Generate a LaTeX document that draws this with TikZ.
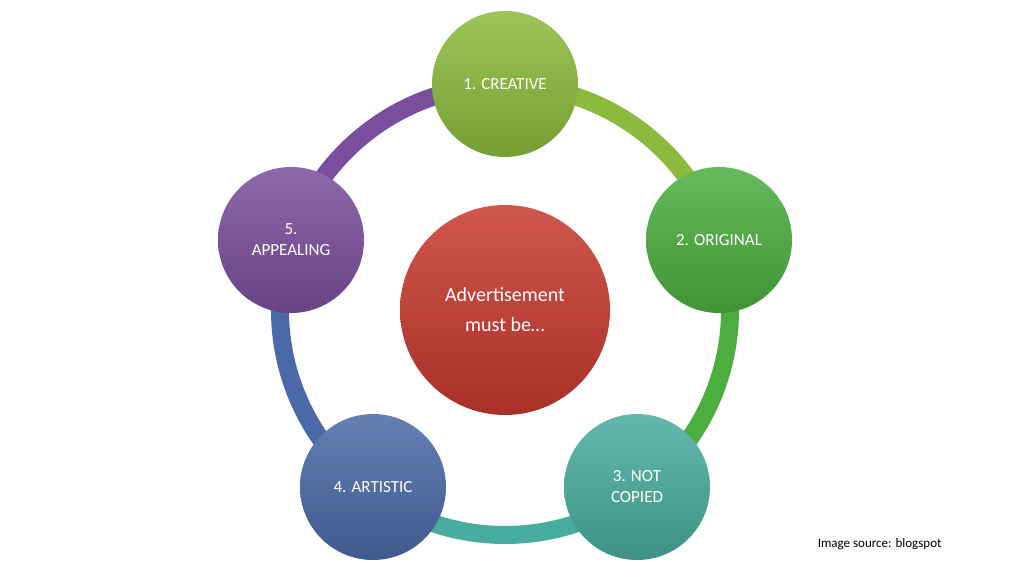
\documentclass[tikz,border=0pt]{standalone}
\usepackage{fontspec}
\setmainfont{Carlito}
\usetikzlibrary{positioning}
\definecolor{cCreative}{HTML}{8CBA3C}
\definecolor{cOriginal}{HTML}{4BAE3F}
\definecolor{cCopied}{HTML}{48AC9E}
\definecolor{cArtistic}{HTML}{4A69A6}
\definecolor{cAppealing}{HTML}{7A4E9C}
\definecolor{cCenter}{HTML}{C7382E}
\begin{document}
\begin{tikzpicture}[x=1pt,y=1pt,
    item/.style={circle, minimum size=146pt, text=white, align=center,
        font=\fontsize{17}{21}\selectfont, inner sep=0pt},
    ring/.style={line width=18pt}]
    \useasboundingbox (0,0) rectangle (1024,576);
    % center
    \node[item, minimum size=210pt, top color=cCenter!85!white, bottom color=cCenter!85!black,
          font=\fontsize{20}{30}\selectfont] (c) at (505,266) {Advertisement\\must be\dots};
    % ring segments
    \draw[ring, cCreative] (c.center) ++(90:225) arc (90:18:225);
    \draw[ring, cOriginal] (c.center) ++(18:225) arc (18:-54:225);
    \draw[ring, cCopied] (c.center) ++(-54:225) arc (-54:-126:225);
    \draw[ring, cArtistic] (c.center) ++(-126:225) arc (-126:-198:225);
    \draw[ring, cAppealing] (c.center) ++(162:225) arc (162:90:225);
    % outer items
    \node[item, top color=cCreative!85!white, bottom color=cCreative!85!black] (creative) at (505,492) {1. CREATIVE};
    \node[item, top color=cOriginal!85!white, bottom color=cOriginal!85!black] (original) at (719,336) {2. ORIGINAL};
    \node[item, top color=cCopied!85!white, bottom color=cCopied!85!black] (copied) at (637,89) {3. NOT\\COPIED};
    \node[item, top color=cArtistic!85!white, bottom color=cArtistic!85!black] (artistic) at (373,89) {4. ARTISTIC};
    \node[item, top color=cAppealing!85!white, bottom color=cAppealing!85!black] (appealing) at (291,336) {5.\\APPEALING};
    \node[font=\fontsize{13}{15}\selectfont, anchor=east] (source) at (945,32) {Image source: blogspot};
\end{tikzpicture}
\end{document}
